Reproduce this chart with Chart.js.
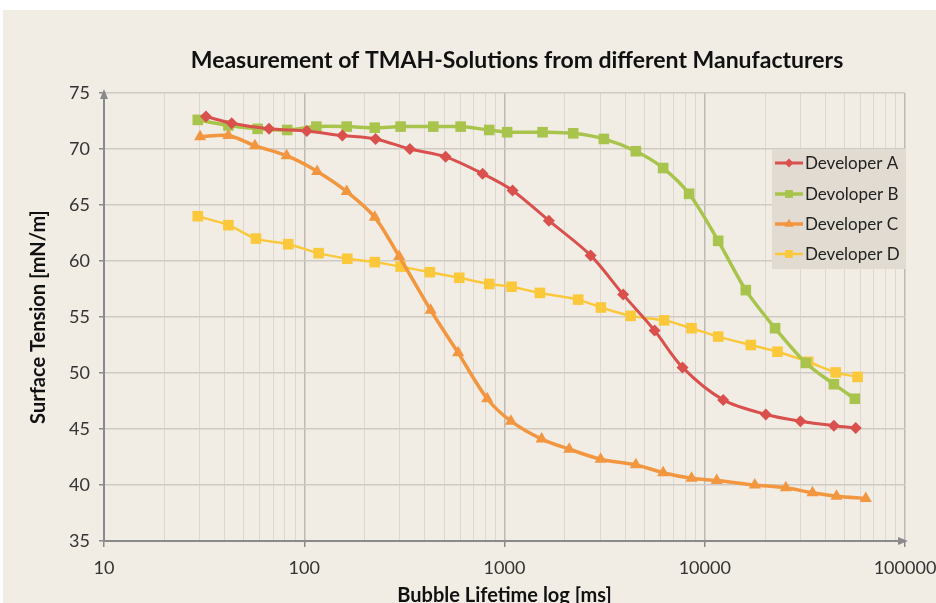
<!DOCTYPE html>
<html>
<head>
<meta charset="utf-8">
<title>TMAH measurement</title>
<script src="https://cdn.jsdelivr.net/npm/chart.js@4.4.1/dist/chart.umd.min.js"></script>
<style>
  html, body { margin: 0; padding: 0; background: #ffffff; overflow: hidden; }
  #wrap { position: absolute; left: 3px; top: 10px; width: 933px; height: 600px; background: #f1ede5; }
</style>
</head>
<body>
<div id="wrap"><canvas id="chart"></canvas></div>
<script>
// Werte
const devA_x = [32.3, 43.4, 66.7, 103, 155, 227, 337, 508, 777, 1097, 1666, 2692, 3915, 5614, 7745, 12360, 20180, 30060, 44150, 56780];
const devA_y = [72.9, 72.3, 71.8, 71.6, 71.2, 70.9, 70.0, 69.3, 67.8, 66.3, 63.6, 60.5, 57.0, 53.8, 50.5, 47.6, 46.3, 45.7, 45.3, 45.1];

const devB_x = [29.4, 41.8, 58.5, 82.2, 115, 163, 225, 303, 441, 604, 839, 1031, 1549, 2203, 3135, 4528, 6198, 8356, 11670, 16030, 22450, 31990, 44150, 56160];
const devB_y = [72.6, 72.1, 71.8, 71.7, 72.0, 72.0, 71.9, 72.0, 72.0, 72.0, 71.7, 71.5, 71.5, 71.4, 70.9, 69.8, 68.3, 66.0, 61.8, 57.4, 54.0, 50.9, 49.0, 47.7];

const devC_x = [30.2, 41.8, 56.7, 81.7, 116, 163, 225, 298, 428, 587, 820, 1077, 1532, 2105, 3020, 4528, 6198, 8590, 11480, 17780, 25410, 34510, 45500, 63680];
const devC_y = [71.1, 71.2, 70.3, 69.4, 68.0, 66.2, 63.9, 60.4, 55.6, 51.8, 47.7, 45.7, 44.1, 43.2, 42.3, 41.8, 41.1, 40.6, 40.4, 40.0, 39.75, 39.3, 39.0, 38.8];

const devD_x = [29.4, 41.8, 57.4, 83.2, 118, 164, 225, 303, 424, 594, 839, 1085, 1502, 2333, 3030, 4262, 6270, 8590, 11670, 16980, 23080, 32830, 45100, 57940];
const devD_y = [64.0, 63.2, 62.0, 61.5, 60.7, 60.2, 59.9, 59.5, 59.0, 58.5, 57.95, 57.7, 57.15, 56.55, 55.85, 55.1, 54.7, 54.0, 53.25, 52.5, 51.9, 51.0, 50.05, 49.65];

const seriesNames = ['Developer A', 'Devoloper B', 'Developer C', 'Developer D'];
const xTickLabels = [10, 100, 1000, 10000, 100000];
const yTickLabels = [35, 40, 45, 50, 55, 60, 65, 70, 75];

function toPoints(xs, ys) {
    return xs.map(function(x, i) { return { x: x, y: ys[i] }; });
}

function isDecade(v) {
    return xTickLabels.indexOf(Math.round(v)) !== -1;
}

// Titel, Legende und Pfeile selbst zeichnen
const extrasPlugin = {
    id: 'extras',
    afterDraw(chart) {
        const ctx = chart.ctx;
        const area = chart.chartArea;
        ctx.save();

        // Titel
        ctx.fillStyle = '#111';
        ctx.font = 'bold 23px Lato';
        ctx.textAlign = 'center';
        ctx.textBaseline = 'middle';
        ctx.fillText('Measurement of TMAH-Solutions from different Manufacturers', 514, 51);

        // Pfeile an den Achsen
        ctx.fillStyle = '#8a8a8a';
        ctx.beginPath();
        ctx.moveTo(area.left, area.top - 4);
        ctx.lineTo(area.left - 4, area.top + 6);
        ctx.lineTo(area.left + 4, area.top + 6);
        ctx.closePath();
        ctx.fill();
        ctx.beginPath();
        ctx.moveTo(area.right + 3, area.bottom);
        ctx.lineTo(area.right - 7, area.bottom - 4);
        ctx.lineTo(area.right - 7, area.bottom + 4);
        ctx.closePath();
        ctx.fill();

        // Legende
        ctx.fillStyle = '#e2dbd1';
        ctx.fillRect(769, 139, 134, 120);
        const rows = [153, 184, 214, 244];
        ctx.font = '17px Lato';
        ctx.textAlign = 'left';
        chart.data.datasets.forEach(function(ds, i) {
            const y = rows[i];
            ctx.strokeStyle = ds.borderColor;
            ctx.lineWidth = ds.borderWidth;
            ctx.beginPath();
            ctx.moveTo(772, y);
            ctx.lineTo(800, y);
            ctx.stroke();
            ctx.fillStyle = ds.backgroundColor;
            const r = ds.pointRadius * 0.75;
            ctx.beginPath();
            if (ds.pointStyle === 'rectRot') {
                ctx.moveTo(786 - r, y); ctx.lineTo(786, y - r); ctx.lineTo(786 + r, y); ctx.lineTo(786, y + r);
            } else if (ds.pointStyle === 'triangle') {
                ctx.moveTo(786, y - r); ctx.lineTo(786 + r * 0.87, y + r / 2); ctx.lineTo(786 - r * 0.87, y + r / 2);
            } else {
                const s = r * 0.7;
                ctx.rect(786 - s, y - s, 2 * s, 2 * s);
            }
            ctx.closePath();
            ctx.fill();
            ctx.fillStyle = '#222';
            ctx.fillText(seriesNames[i], 802, y + 1);
        });
        ctx.restore();
    }
};

const ctx = document.getElementById('chart').getContext('2d');
const chart = new Chart(ctx, {
    type: 'line',
    data: {
        datasets: [
            {
                label: seriesNames[0],
                data: toPoints(devA_x, devA_y),
                borderColor: '#d9504d',
                backgroundColor: '#d9504d',
                borderWidth: 3,
                pointStyle: 'rectRot',
                pointRadius: 6,
                pointBorderWidth: 0,
                tension: 0.3
            },
            {
                label: seriesNames[1],
                data: toPoints(devB_x, devB_y),
                borderColor: '#a9c44c',
                backgroundColor: '#a9c44c',
                borderWidth: 3.5,
                pointStyle: 'rect',
                pointRadius: 7.5,
                pointBorderWidth: 0,
                tension: 0.3
            },
            {
                label: seriesNames[2],
                data: toPoints(devC_x, devC_y),
                borderColor: '#f29640',
                backgroundColor: '#f29640',
                borderWidth: 3.5,
                pointStyle: 'triangle',
                pointRadius: 7,
                pointBorderWidth: 0,
                tension: 0.3
            },
            {
                label: seriesNames[3],
                data: toPoints(devD_x, devD_y),
                borderColor: '#fbc83c',
                backgroundColor: '#fbc83c',
                borderWidth: 2.5,
                pointStyle: 'rect',
                pointRadius: 7.5,
                pointBorderWidth: 0,
                tension: 0.3
            }
        ]
    },
    options: {
        responsive: true,
        maintainAspectRatio: false,
        animation: false,
        layout: { padding: { left: 0, top: 83, right: 31, bottom: 0 } },
        plugins: {
            legend: { display: false },
            title: { display: false },
            tooltip: { enabled: false }
        },
        scales: {
            x: {
                type: 'logarithmic',
                min: 10,
                max: 100000,
                afterBuildTicks: function(scale) {
                    const ticks = [];
                    for (let d = 10; d < 100000; d *= 10) {
                        for (let m = 1; m < 10; m++) ticks.push({ value: d * m });
                    }
                    ticks.push({ value: 100000 });
                    scale.ticks = ticks;
                },
                afterFit: function(scale) {
                    scale.height = 69;
                    scale.paddingRight = 0;
                    scale.paddingLeft = 0;
                },
                ticks: {
                    autoSkip: false,
                    maxRotation: 0,
                    padding: 10,
                    color: '#333',
                    font: { family: 'Lato', size: 18 },
                    callback: function(v) { return isDecade(v) ? String(Math.round(v)) : ''; }
                },
                grid: {
                    color: function(c) { return isDecade(c.tick.value) ? '#bdbab4' : '#dcd8d0'; },
                    lineWidth: function(c) { return isDecade(c.tick.value) ? 1.5 : 1; },
                    tickColor: function(c) { return isDecade(c.tick.value) ? '#8a8a8a' : 'rgba(0,0,0,0)'; },
                    tickLength: 6
                },
                border: { color: '#8a8a8a', width: 2 },
                title: {
                    display: true,
                    text: 'Bubble Lifetime log [ms]',
                    color: '#111',
                    font: { family: 'Lato', size: 20, weight: 'bold' },
                    padding: { top: 0, bottom: 2 }
                }
            },
            y: {
                min: 35,
                max: 75,
                afterBuildTicks: function(scale) {
                    scale.ticks = yTickLabels.map(function(v) { return { value: v }; });
                },
                afterFit: function(scale) { scale.width = 101; },
                ticks: {
                    padding: 9,
                    color: '#333',
                    font: { family: 'Lato', size: 18 }
                },
                grid: {
                    color: '#cfcac2',
                    lineWidth: 1.5,
                    tickColor: '#8a8a8a',
                    tickLength: 5
                },
                border: { color: '#8a8a8a', width: 2 },
                title: {
                    display: true,
                    text: 'Surface Tension [mN/m]',
                    color: '#111',
                    font: { family: 'Lato', size: 20, weight: 'bold' },
                    padding: { top: 24, bottom: 0 }
                }
            }
        }
    },
    plugins: [extrasPlugin]
});
</script>
</body>
</html>
